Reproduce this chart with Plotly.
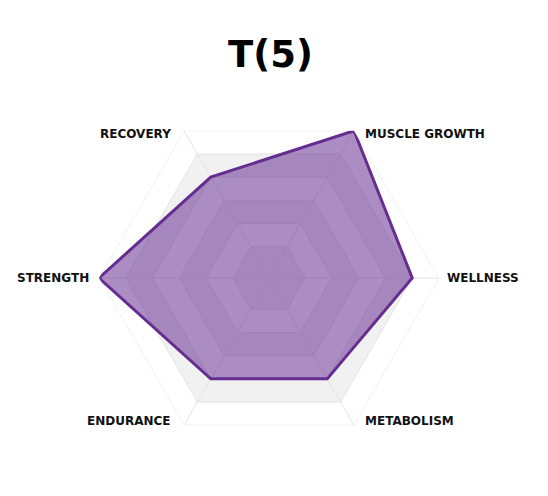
import math
import plotly.graph_objects as go

title_text = "T(5)"
categories = ["MUSCLE GROWTH", "WELLNESS", "METABOLISM", "ENDURANCE", "STRENGTH", "RECOVERY"]
values = [5, 4, 3, 3, 5, 3]
ring_levels = [0, 1, 2, 3, 4, 5]
r_min = -1.35
r_max = 5

grid_color = "#e4e4e4"
band_gray = "#f1f1f1"
band_white = "#ffffff"
line_color = "#662d91"
fill_color = "rgba(102,45,145,0.55)"

fig = go.Figure()

theta_closed = categories + [categories[0]]

# alternating bands, outer first
for lvl in sorted(ring_levels, reverse=True):
    col = band_white if (r_max - lvl) % 2 == 0 else band_gray
    fig.add_trace(go.Scatterpolar(
        r=[lvl] * len(theta_closed), theta=theta_closed,
        mode="lines", fill="toself", fillcolor=col,
        line=dict(color=grid_color, width=1),
        hoverinfo="skip", showlegend=False))

# spokes
for c in categories:
    fig.add_trace(go.Scatterpolar(
        r=[r_min, r_max], theta=[c, c], mode="lines",
        line=dict(color=grid_color, width=1),
        hoverinfo="skip", showlegend=False))

# data
fig.add_trace(go.Scatterpolar(
    r=values + [values[0]], theta=theta_closed,
    mode="lines", fill="toself", fillcolor=fill_color,
    line=dict(color=line_color, width=3, shape="linear"),
    showlegend=False))

W, H = 548, 496
cx, cy, R = 269, 278, 170

# category labels placed just outside each outer vertex
annotations = []
start_angle = 60
for i, c in enumerate(categories):
    ang = math.radians(start_angle - 60 * i)
    vx = cx + R * math.cos(ang)
    vy = cy - R * math.sin(ang)
    cosv = math.cos(ang)
    if cosv > 0.1:
        xa, dx = "left", 9 if abs(cosv) < 0.9 else 6
    elif cosv < -0.1:
        xa, dx = "right", -11 if abs(cosv) < 0.9 else -8
    else:
        xa, dx = "center", 0
    dy = 3 if math.sin(ang) > 0.1 else (-4 if math.sin(ang) < -0.1 else 0)
    annotations.append(dict(
        text=c, x=(vx + dx) / W, y=1 - (vy + dy) / H,
        xref="paper", yref="paper", showarrow=False,
        xanchor=xa, yanchor="middle",
        font=dict(family="DejaVu Sans", size=12, color="#111111", weight=700)))

annotations.append(dict(
    text=title_text, x=270 / W, y=1 - 55 / H, xref="paper", yref="paper",
    showarrow=False, xanchor="center", yanchor="middle",
    font=dict(family="DejaVu Sans", size=37, color="#000000", weight=700)))

fig.update_layout(
    width=W, height=H,
    margin=dict(l=0, r=0, t=0, b=0),
    paper_bgcolor="white",
    plot_bgcolor="white",
    showlegend=False,
    polar=dict(
        domain=dict(x=[(cx - R) / W, (cx + R) / W],
                    y=[1 - (cy + R) / H, 1 - (cy - R) / H]),
        bgcolor="white",
        gridshape="linear",
        radialaxis=dict(range=[r_min, r_max], tickvals=ring_levels,
                        showticklabels=False, showgrid=False, showline=False,
                        ticks=""),
        angularaxis=dict(categoryorder="array", categoryarray=categories,
                         direction="clockwise", rotation=60,
                         showgrid=False, showline=False, ticks="",
                         showticklabels=False),
    ),
    annotations=annotations,
)

fig.write_html("out.html")
